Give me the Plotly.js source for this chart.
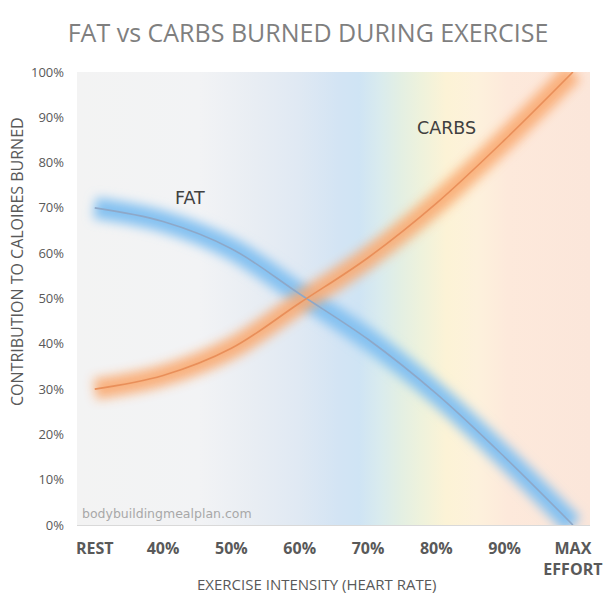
<!DOCTYPE html>
<html>
<head>
<meta charset="utf-8">
<script src="https://cdn.plot.ly/plotly-3.0.1.min.js"></script>
<style>
  html, body { margin: 0; padding: 0; background: #ffffff; }
  #chart { width: 616px; height: 609px; }
</style>
</head>
<body>
<div id="chart"></div>
<script>
// Exercise intensity steps (heart rate) and share of calories from each fuel
const categories = ['REST', '40%', '50%', '60%', '70%', '80%', '90%', 'MAX<br>EFFORT'];
const fatShare   = [70, 67, 61, 51, 41, 29, 15, 0];
const carbShare  = [30, 33, 39, 49, 59, 71, 85, 100];

const xIdx = categories.map((_, i) => i);
const xRange = [-0.26, 7.25];
const yRange = [0, 100];

const textGrey = '#595959';

// horizontal "intensity zone" wash behind the curves
const zoneScale = [
  [0.00, '#f3f3f3'],
  [0.24, '#f2f3f5'],
  [0.35, '#e8edf3'],
  [0.43, '#e0e9f3'],
  [0.51, '#d3e4f4'],
  [0.55, '#cfe4f4'],
  [0.59, '#d9ebee'],
  [0.63, '#e3efe3'],
  [0.67, '#eef2dc'],
  [0.72, '#fcf3d6'],
  [0.78, '#fdf1dc'],
  [0.84, '#fde9db'],
  [1.00, '#fbe6da']
];

const background = {
  type: 'scatter',
  x: [xRange[0], xRange[1], xRange[1], xRange[0], xRange[0]],
  y: [yRange[0], yRange[0], yRange[1], yRange[1], yRange[0]],
  mode: 'lines',
  line: { width: 0 },
  fill: 'toself',
  fillgradient: { type: 'horizontal', colorscale: zoneScale },
  hoverinfo: 'skip',
  showlegend: false
};

function glow(y, color, name) {
  return {
    type: 'scatter', x: xIdx, y: y, mode: 'lines', name: name,
    line: { color: color, width: 21, shape: 'spline', smoothing: 1 },
    hoverinfo: 'skip', showlegend: false
  };
}
function core(y, color, name) {
  return {
    type: 'scatter', x: xIdx, y: y, mode: 'lines', name: name,
    line: { color: color, width: 1.6, shape: 'spline', smoothing: 1 },
    hovertemplate: '%{y}%<extra>' + name + '</extra>', showlegend: false
  };
}

const traces = [
  background,
  glow(fatShare, '#84c1f1', 'FAT'),
  glow(carbShare, '#f9aa72', 'CARBS'),
  core(fatShare, '#8ea8c8', 'FAT'),
  core(carbShare, '#e98f5a', 'CARBS')
];

const layout = {
  width: 616, height: 609,
  margin: { l: 77, r: 26, t: 72, b: 84 },
  paper_bgcolor: '#ffffff',
  plot_bgcolor: '#ffffff',
  font: { family: '"Open Sans", sans-serif', color: textGrey },
  title: {
    text: 'FAT vs CARBS BURNED DURING EXERCISE',
    font: { family: '"Open Sans", sans-serif', size: 25, color: '#7f7f7f' },
    x: 0.5, xanchor: 'center', y: 0.945, yanchor: 'middle'
  },
  xaxis: {
    range: xRange, tickvals: xIdx, ticktext: categories,
    showgrid: false, zeroline: false, showline: true,
    linecolor: '#d9d9d9', linewidth: 1, ticks: '',
    ticklabelstandoff: 9,
    tickfont: { family: '"Open Sans", sans-serif', size: 16, color: textGrey, weight: 'bold' },
    fixedrange: true
  },
  yaxis: {
    range: yRange, dtick: 10, ticksuffix: '%',
    showgrid: false, zeroline: false, showline: false, ticks: '',
    ticklabelstandoff: 12,
    tickfont: { family: '"Open Sans", sans-serif', size: 13, color: textGrey },
    fixedrange: true
  },
  annotations: [
    { text: 'FAT', x: 1.39, y: 72.2, xref: 'x', yref: 'y', showarrow: false,
      font: { family: '"DejaVu Sans", sans-serif', size: 17.5, color: '#404040' } },
    { text: 'CARBS', x: 5.15, y: 87.6, xref: 'x', yref: 'y', showarrow: false,
      font: { family: '"DejaVu Sans", sans-serif', size: 17.5, color: '#404040' } },
    { text: 'bodybuildingmealplan.com', x: 0.006, y: 0.005, xref: 'paper', yref: 'paper',
      xanchor: 'left', yanchor: 'bottom', showarrow: false,
      font: { family: '"DejaVu Sans", sans-serif', size: 12.5, color: '#a8a8a8' } },
    { text: 'EXERCISE INTENSITY (HEART RATE)', x: 317, y: 584,
      xanchor: 'center', yanchor: 'middle',
      showarrow: false, font: { size: 15, color: textGrey } },
    { text: 'CONTRIBUTION TO CALOIRES BURNED', textangle: -90, x: 17, y: 262,
      xanchor: 'center', yanchor: 'middle',
      showarrow: false, font: { size: 16, color: textGrey } }
  ]
};

// the axis captions are placed in page pixels, converted to paper units here
(function () {
  const H = layout.height, W = layout.width, m = layout.margin;
  const ph = H - m.t - m.b, pw = W - m.l - m.r;
  [layout.annotations[3], layout.annotations[4]].forEach(function (a) {
    a.xref = 'paper'; a.yref = 'paper';
    a.x = (a.x - m.l) / pw;
    a.y = (H - m.b - a.y) / ph;
  });
})();

Plotly.newPlot('chart', traces, layout, { displayModeBar: false, staticPlot: true }).then(function (gd) {
  // soften the two wide bands into a glow
  const svg = gd.querySelector('svg.main-svg');
  const NS = 'http://www.w3.org/2000/svg';
  let defs = svg.querySelector('defs');
  if (!defs) { defs = document.createElementNS(NS, 'defs'); svg.insertBefore(defs, svg.firstChild); }
  const f = document.createElementNS(NS, 'filter');
  f.setAttribute('id', 'bandGlow');
  f.setAttribute('filterUnits', 'userSpaceOnUse');
  f.setAttribute('x', '-200'); f.setAttribute('y', '-200');
  f.setAttribute('width', '1200'); f.setAttribute('height', '1200');
  const blur = document.createElementNS(NS, 'feGaussianBlur');
  blur.setAttribute('stdDeviation', '5.5');
  f.appendChild(blur);
  defs.appendChild(f);
  const groups = gd.querySelectorAll('.scatterlayer .trace');
  [1, 2].forEach(function (i) {
    if (groups[i]) groups[i].setAttribute('filter', 'url(#bandGlow)');
  });
  if (groups[2]) groups[2].style.opacity = '0.9';
});
</script>
</body>
</html>
